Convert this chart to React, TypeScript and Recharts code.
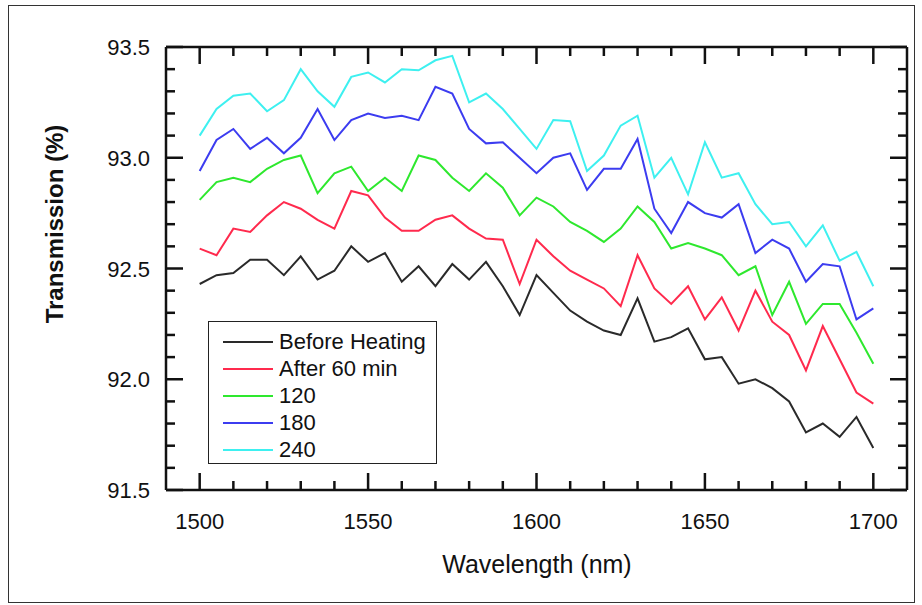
import { LineChart, Line, XAxis, YAxis, Legend } from "recharts";

// Transmission spectra after successive heating steps
const wavelengths = [
  1500, 1505, 1510, 1515, 1520, 1525, 1530, 1535, 1540, 1545, 1550, 1555, 1560, 1565,
  1570, 1575, 1580, 1585, 1590, 1595, 1600, 1605, 1610, 1615, 1620, 1625, 1630, 1635,
  1640, 1645, 1650, 1655, 1660, 1665, 1670, 1675, 1680, 1685, 1690, 1695, 1700,
];

const beforeHeating = [
  92.43, 92.47, 92.48, 92.54, 92.54, 92.47, 92.555, 92.45, 92.49, 92.6, 92.53, 92.57, 92.44, 92.51,
  92.42, 92.52, 92.45, 92.53, 92.42, 92.29, 92.47, 92.39, 92.31, 92.26, 92.22, 92.2, 92.365, 92.17,
  92.19, 92.23, 92.09, 92.1, 91.98, 92.0, 91.96, 91.9, 91.76, 91.8, 91.74, 91.83, 91.69,
];
const after60 = [
  92.59, 92.56, 92.68, 92.665, 92.74, 92.8, 92.77, 92.72, 92.68, 92.85, 92.83, 92.73, 92.67, 92.67,
  92.72, 92.74, 92.68, 92.635, 92.63, 92.43, 92.63, 92.555, 92.49, 92.45, 92.41, 92.33, 92.56, 92.41,
  92.34, 92.42, 92.27, 92.37, 92.22, 92.4, 92.26, 92.2, 92.04, 92.24, 92.09, 91.94, 91.89,
];
const after120 = [
  92.81, 92.89, 92.91, 92.89, 92.95, 92.99, 93.01, 92.84, 92.93, 92.96, 92.85, 92.91, 92.85, 93.01,
  92.99, 92.91, 92.85, 92.93, 92.865, 92.74, 92.82, 92.78, 92.71, 92.67, 92.62, 92.68, 92.78, 92.71,
  92.59, 92.615, 92.59, 92.56, 92.47, 92.51, 92.29, 92.44, 92.25, 92.34, 92.34, 92.21, 92.07,
];
const after180 = [
  92.94, 93.08, 93.13, 93.04, 93.09, 93.02, 93.09, 93.22, 93.08, 93.17, 93.2, 93.18, 93.19, 93.17,
  93.32, 93.29, 93.13, 93.065, 93.07, 93.0, 92.93, 93.0, 93.02, 92.855, 92.95, 92.95, 93.085, 92.77,
  92.66, 92.8, 92.75, 92.73, 92.79, 92.57, 92.63, 92.59, 92.44, 92.52, 92.51, 92.27, 92.32,
];
const after240 = [
  93.1, 93.22, 93.28, 93.29, 93.21, 93.26, 93.4, 93.3, 93.23, 93.365, 93.385, 93.34, 93.4, 93.395,
  93.44, 93.46, 93.25, 93.29, 93.22, 93.13, 93.04, 93.17, 93.165, 92.94, 93.01, 93.145, 93.19, 92.91,
  93.0, 92.835, 93.07, 92.91, 92.93, 92.79, 92.7, 92.71, 92.6, 92.695, 92.535, 92.575, 92.42,
];

const xTicks = [
  1500, 1510, 1520, 1530, 1540, 1550, 1560, 1570, 1580, 1590, 1600, 1610, 1620, 1630, 1640, 1650,
  1660, 1670, 1680, 1690, 1700,
];
const xLabels = [1500, 1550, 1600, 1650, 1700];
const yTicks = [
  91.5, 91.6, 91.7, 91.8, 91.9, 92.0, 92.1, 92.2, 92.3, 92.4, 92.5, 92.6, 92.7, 92.8, 92.9, 93.0,
  93.1, 93.2, 93.3, 93.4, 93.5,
];
const yLabels = [91.5, 92.0, 92.5, 93.0, 93.5];

const data = wavelengths.map((wl, i) => ({
  wl,
  before: beforeHeating[i],
  m60: after60[i],
  m120: after120[i],
  m180: after180[i],
  m240: after240[i],
}));

const series = [
  { key: "before", name: "Before Heating", color: "#2a2a2a" },
  { key: "m60", name: "After 60 min", color: "#ff2a4d" },
  { key: "m120", name: "120", color: "#2ee82e" },
  { key: "m180", name: "180", color: "#3c3cf0" },
  { key: "m240", name: "240", color: "#3ef0f0" },
];

const FONT = "'Liberation Sans', Arial, Helvetica, sans-serif";
const INK = "#111";
const MAJOR = 17;
const MINOR = 9;

const isYLabel = (v: number) => yLabels.some(l => Math.abs(l - v) < 1e-6);

function BottomTick({ x, y, payload }: any) {
  const major = xLabels.includes(payload.value);
  return (
    <g>
      <line x1={x} x2={x} y1={y} y2={y - (major ? MAJOR : MINOR)} stroke={INK} strokeWidth={2.5} />
      {major && (
        <text x={x} y={y + 39} textAnchor="middle" fontSize={22} fontFamily={FONT} fill={INK}>
          {payload.value}
        </text>
      )}
    </g>
  );
}

function TopTick({ x, y, payload }: any) {
  const major = xLabels.includes(payload.value);
  return <line x1={x} x2={x} y1={y} y2={y + (major ? MAJOR : MINOR)} stroke={INK} strokeWidth={2.5} />;
}

function LeftTick({ x, y, payload }: any) {
  const major = isYLabel(payload.value);
  return (
    <g>
      <line x1={x} x2={x + (major ? MAJOR : MINOR)} y1={y} y2={y} stroke={INK} strokeWidth={2.5} />
      {major && (
        <text x={x - 16} y={y + 8} textAnchor="end" fontSize={22} fontFamily={FONT} fill={INK}>
          {Number(payload.value).toFixed(1)}
        </text>
      )}
    </g>
  );
}

function RightTick({ x, y, payload }: any) {
  const major = isYLabel(payload.value);
  return <line x1={x} x2={x - (major ? MAJOR : MINOR)} y1={y} y2={y} stroke={INK} strokeWidth={2.5} />;
}

// legend keeps the series order (before -> 240)
function LegendBox() {
  return (
    <div
      style={{
        width: 229,
        height: 143,
        boxSizing: "border-box",
        border: "1.5px solid #222",
        background: "#fff",
        paddingTop: 7,
        paddingLeft: 14,
      }}
    >
      {series.map(s => (
        <div key={s.key} style={{ display: "flex", alignItems: "center", height: 26.8 }}>
          <div style={{ width: 50, height: 2, background: s.color, marginRight: 6, flexShrink: 0 }} />
          <span style={{ fontSize: 22, fontFamily: FONT, color: INK, lineHeight: 1 }}>{s.name}</span>
        </div>
      ))}
    </div>
  );
}

export default function App() {
  return (
    <div style={{ position: "absolute", left: 0, top: 0, width: 922, height: 605, background: "#fff" }}>
      <div
        style={{
          position: "absolute",
          left: 8,
          top: 5,
          width: 907,
          height: 598,
          boxSizing: "border-box",
          border: "1.5px solid #333",
        }}
      />
      <div style={{ position: "absolute", left: 0, top: 0 }}>
        <LineChart width={922} height={605} data={data} margin={{ top: 46, right: 14, bottom: 85, left: 106 }}>
          <XAxis
            xAxisId="b"
            dataKey="wl"
            type="number"
            domain={[1490, 1710]}
            ticks={xTicks}
            interval={0}
            height={30}
            tickSize={0}
            tickMargin={0}
            tickLine={false}
            tick={<BottomTick />}
            axisLine={{ stroke: INK, strokeWidth: 2.5 }}
            allowDataOverflow
          />
          <XAxis
            xAxisId="t"
            orientation="top"
            dataKey="wl"
            type="number"
            domain={[1490, 1710]}
            ticks={xTicks}
            interval={0}
            height={1}
            tickSize={0}
            tickMargin={0}
            tickLine={false}
            tick={<TopTick />}
            axisLine={{ stroke: INK, strokeWidth: 2.5 }}
            allowDataOverflow
          />
          <YAxis
            yAxisId="l"
            type="number"
            domain={[91.5, 93.5]}
            ticks={yTicks}
            interval={0}
            width={60}
            tickSize={0}
            tickMargin={0}
            tickLine={false}
            tick={<LeftTick />}
            axisLine={{ stroke: INK, strokeWidth: 2.5 }}
            allowDataOverflow
            label={() => (
              <text
                x={54}
                y={224}
                transform="rotate(-90 54 224)"
                textAnchor="middle"
                dominantBaseline="central"
                fontSize={24}
                fontWeight="bold"
                fontFamily={FONT}
                fill={INK}
              >
                Transmission (%)
              </text>
            )}
          />
          <YAxis
            yAxisId="r"
            orientation="right"
            type="number"
            domain={[91.5, 93.5]}
            ticks={yTicks}
            interval={0}
            width={1}
            tickSize={0}
            tickMargin={0}
            tickLine={false}
            tick={<RightTick />}
            axisLine={{ stroke: INK, strokeWidth: 2.5 }}
            allowDataOverflow
          />
          <Legend
            layout="vertical"
            align="center"
            verticalAlign="middle"
            content={<LegendBox />}
            wrapperStyle={{ left: 208, top: 321, width: 229, height: 143 }}
          />
          {series.map(s => (
            <Line
              key={s.key}
              xAxisId="b"
              yAxisId="l"
              type="linear"
              dataKey={s.key}
              name={s.name}
              stroke={s.color}
              strokeWidth={2}
              dot={false}
              activeDot={false}
              isAnimationActive={false}
            />
          ))}
          <text x={537} y={573} textAnchor="middle" fontSize={25} fontFamily={FONT} fill={INK}>
            Wavelength (nm)
          </text>
        </LineChart>
      </div>
    </div>
  );
}
